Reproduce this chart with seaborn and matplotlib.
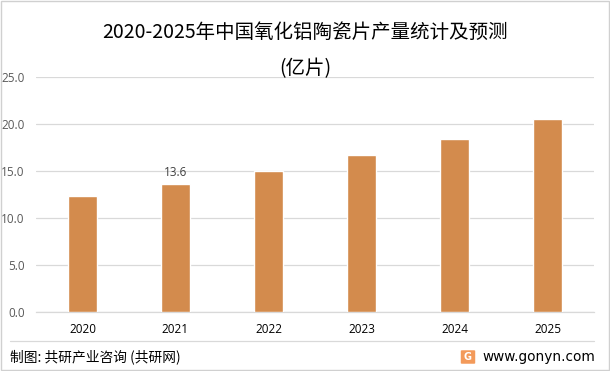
import matplotlib
matplotlib.use("Agg")
import matplotlib.pyplot as plt
import seaborn as sns
import pandas as pd
from matplotlib.patches import Rectangle, FancyBboxPatch
from matplotlib.lines import Line2D

years = ["2020", "2021", "2022", "2023", "2024", "2025"]
output = [12.3, 13.6, 15.0, 16.7, 18.4, 20.5]
labelled_year = "2021"
yticks = [0.0, 5.0, 10.0, 15.0, 20.0, 25.0]
title = "2020-2025年中国氧化铝陶瓷片产量统计及预测\n(亿片)"
source = "制图: 共研产业咨询 (共研网)"
site = "www.gonyn.com"

sns.set_theme(style="white")
plt.rcParams['font.family'] = ['Noto Sans CJK SC', 'DejaVu Sans']

df = pd.DataFrame({"year": years, "value": output})

fig = plt.figure(figsize=(6.10, 3.71), dpi=100)
ax = fig.add_axes([36/610, 1-312/371, (594-36)/610, (312-77)/371])

sns.barplot(data=df, x="year", y="value", color="#D38B4D", width=0.31,
            saturation=1, ax=ax, zorder=3)

ax.set_ylim(0, 25)
ax.set_xlim(-0.5, len(years)-0.5)
ax.set_yticks(yticks)
ax.set_yticklabels([f"{v:.1f}" for v in yticks], fontsize=8.5, color="#595959",
                   family=['Open Sans', 'DejaVu Sans'])
ax.tick_params(axis='y', length=0, pad=8)
ax.tick_params(axis='x', length=0, pad=8, labelsize=8.5, labelcolor="#000000")
for lab in ax.get_xticklabels():
    lab.set_family(['Open Sans', 'DejaVu Sans'])
ax.set_xlabel("")
ax.set_ylabel("")
ax.grid(axis='y', color="#D9D9D9", linewidth=0.9, zorder=0)
for s in ["top", "right", "left"]:
    ax.spines[s].set_visible(False)
ax.spines["bottom"].set_color("#D9D9D9")
ax.spines["bottom"].set_linewidth(0.9)

idx = years.index(labelled_year)
ax.text(idx, output[idx] + 0.6, f"{output[idx]:.1f}", ha="center", va="bottom",
        fontsize=8.5, color="#404040", family=['Open Sans', 'DejaVu Sans'])

fig.text(0.5, 1-51/371, title, ha="center", va="center", fontsize=14,
         color="#000000", linespacing=1.95)

# outer frame
fig.add_artist(Rectangle((1/610, 1/371), 608/610, 369/371, transform=fig.transFigure,
                         fill=False, edgecolor="#D0D0D0", linewidth=1.0))
# footer separator
fig.add_artist(Line2D([10/610, 594/610], [1-341/371, 1-341/371], transform=fig.transFigure,
                      color="#D9D9D9", linewidth=0.9))
fig.text(10/610, 1-357/371, source, ha="left", va="center", fontsize=9.9, color="#000000")
fig.text(595/610, 1-357/371, site, ha="right", va="center", fontsize=9.8, color="#000000",
         family=['DejaVu Sans'])
# logo
fig.add_artist(FancyBboxPatch((462/610, 1-363/371), 12/610, 12/371, transform=fig.transFigure,
                              boxstyle="round,pad=0.002", facecolor="#F39A5A", edgecolor="none"))
fig.text(468/610, 1-357/371, "G", ha="center", va="center", fontsize=7, color="white",
         weight="bold", family=['DejaVu Sans'])

fig.savefig("out.png", dpi=100)
